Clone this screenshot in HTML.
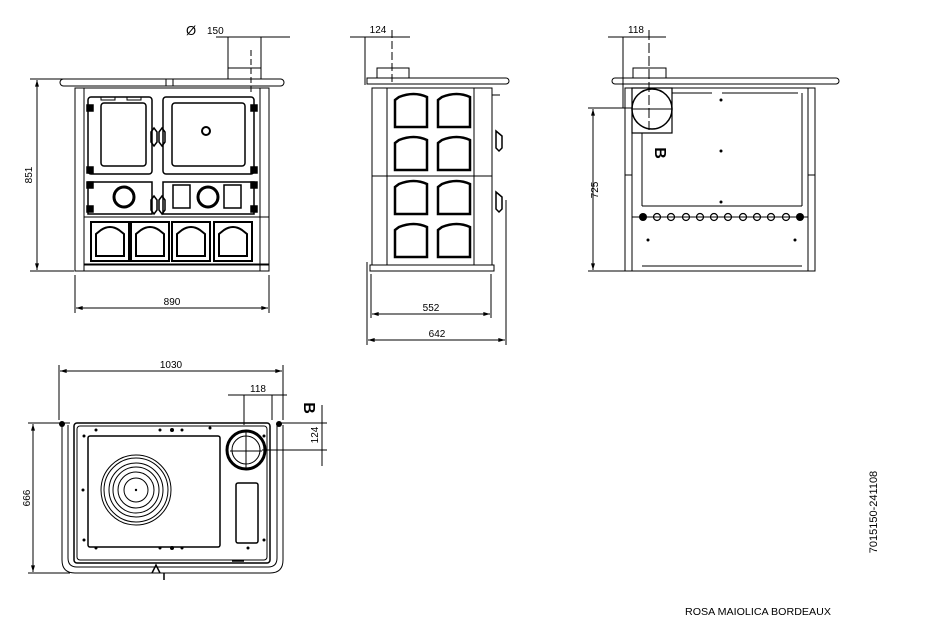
<!DOCTYPE html>
<html><head><meta charset="utf-8"><style>
html,body{margin:0;padding:0;background:#fff;width:944px;height:638px;overflow:hidden}
svg{display:block}
text{font-family:"Liberation Sans",sans-serif;fill:#000}
</style></head><body>
<svg width="944" height="638" viewBox="0 0 944 638" xmlns="http://www.w3.org/2000/svg">
<defs>
<marker id="a" viewBox="0 0 10 6" refX="10" refY="3" markerWidth="8" markerHeight="4" orient="auto-start-reverse"><path d="M0,0L10,3L0,6z" fill="#000"/></marker>
</defs>
<g fill="none" stroke="#000" stroke-width="1">

<!-- FRONT VIEW -->
<line x1="216" y1="37" x2="290" y2="37"/>
<line x1="228" y1="37" x2="228" y2="79"/><line x1="261" y1="37" x2="261" y2="79"/>
<line x1="251" y1="50" x2="251" y2="92" stroke-dasharray="6,3"/>
<rect x="228" y="68" width="33" height="11"/>
<rect x="60" y="79" width="224" height="7" rx="3.5"/>
<rect x="166" y="79" width="7" height="7"/>
<rect x="75" y="88" width="9" height="183"/><rect x="260" y="88" width="9" height="183"/>
<line x1="84" y1="88" x2="260" y2="88"/>
<rect x="84" y="265" width="185" height="6"/>
<rect x="88" y="97" width="64" height="77" rx="3" stroke-width="1.5"/>
<rect x="101" y="103" width="45" height="63" rx="3" stroke-width="1.5"/>
<rect x="163" y="97" width="91" height="77" rx="3" stroke-width="1.5"/>
<rect x="172" y="103" width="73" height="63" rx="3" stroke-width="1.5"/>
<circle cx="206" cy="131" r="4" stroke-width="2"/>
<rect x="101" y="97" width="14" height="3"/><rect x="127" y="97" width="14" height="3"/>
<path d="M151 132 l3 -4 l3 4 v10 l-3 4 l-3 -4z M159 132 l3 -4 l3 4 v10 l-3 4 l-3 -4z" stroke-width="1.5"/>
<rect x="88" y="182" width="64" height="32" stroke-width="1.5"/>
<rect x="163" y="182" width="91" height="32" stroke-width="1.5"/>
<circle cx="124" cy="197" r="10" stroke-width="3"/>
<circle cx="208" cy="197" r="10" stroke-width="3"/>
<rect x="173" y="185" width="17" height="23" stroke-width="1.5"/>
<rect x="224" y="185" width="17" height="23" stroke-width="1.5"/>
<path d="M151 200 l3 -4 l3 4 v10 l-3 4 l-3 -4z M159 200 l3 -4 l3 4 v10 l-3 4 l-3 -4z" stroke-width="1.5"/>
<g stroke-width="1.5" fill="#000">
<rect x="87" y="105" width="6" height="6"/><rect x="87" y="167" width="6" height="6"/><rect x="87" y="182" width="6" height="6"/><rect x="87" y="206" width="6" height="6"/>
<rect x="251" y="105" width="6" height="6"/><rect x="251" y="167" width="6" height="6"/><rect x="251" y="182" width="6" height="6"/><rect x="251" y="206" width="6" height="6"/>
</g>
<rect x="84" y="217" width="185" height="47"/>
<g stroke-width="2">
<path d="M91 222h38v39h-38z M131 222h38v39h-38z M172 222h38v39h-38z M214 222h38v39h-38z"/>
<path d="M96 256v-22l5-4q9-6 18 0l5 4v22z M136 256v-22l5-4q9-6 18 0l5 4v22z M177 256v-22l5-4q9-6 18 0l5 4v22z M219 256v-22l5-4q9-6 18 0l5 4v22z"/>
</g>
<line x1="30" y1="79" x2="74" y2="79"/><line x1="30" y1="271" x2="74" y2="271"/>
<line x1="37" y1="80" x2="37" y2="270" marker-start="url(#a)" marker-end="url(#a)"/>
<line x1="75" y1="275" x2="75" y2="313"/><line x1="269" y1="275" x2="269" y2="313"/>
<line x1="76" y1="308" x2="268" y2="308" marker-start="url(#a)" marker-end="url(#a)"/>

<!-- SIDE VIEW -->
<line x1="350" y1="37" x2="410" y2="37"/>
<line x1="365" y1="37" x2="365" y2="85"/>
<line x1="392" y1="30" x2="392" y2="85" stroke-dasharray="8,3"/>
<rect x="377" y="68" width="32" height="10"/>
<path d="M367 78 H506 a3 3 0 0 1 0 6 H367z"/>
<rect x="372" y="88" width="120" height="177"/>
<line x1="387" y1="88" x2="387" y2="265"/><line x1="474" y1="88" x2="474" y2="265"/>
<line x1="372" y1="176" x2="492" y2="176"/>
<rect x="370" y="265" width="124" height="6"/>
<line x1="492" y1="95" x2="500" y2="95"/>
<g stroke-width="2.5">
<path d="M395 127v-27l4-3q15-6 28 0v30z M438 127v-27l4-3q15-6 28 0v30z"/>
<path d="M395 170v-27l4-3q15-6 28 0v30z M438 170v-27l4-3q15-6 28 0v30z"/>
<path d="M395 214v-27l4-3q15-6 28 0v30z M438 214v-27l4-3q15-6 28 0v30z"/>
<path d="M395 257v-27l4-3q15-6 28 0v30z M438 257v-27l4-3q15-6 28 0v30z"/>
</g>
<path d="M496 131l6 5l0 12l-3 3l-3-3z M496 192l6 5l0 12l-3 3l-3-3z" stroke-width="1.5"/>
<line x1="371" y1="274" x2="371" y2="318"/><line x1="491" y1="274" x2="491" y2="318"/>
<line x1="372" y1="314" x2="490" y2="314" marker-start="url(#a)" marker-end="url(#a)"/>
<line x1="367" y1="262" x2="367" y2="345"/><line x1="506" y1="200" x2="506" y2="345"/>
<line x1="368" y1="340" x2="505" y2="340" marker-start="url(#a)" marker-end="url(#a)"/>

<!-- REAR VIEW -->
<line x1="608" y1="37" x2="666" y2="37"/>
<line x1="623" y1="37" x2="623" y2="108"/>
<line x1="649" y1="30" x2="649" y2="130" stroke-dasharray="10,3"/>
<rect x="633" y="68" width="33" height="10"/>
<path d="M615 78 H836 a3 3 0 0 1 0 6 H615 a3 3 0 0 1 0 -6z"/>
<rect x="625" y="88" width="190" height="183"/>
<line x1="632" y1="88" x2="632" y2="271"/><line x1="808" y1="88" x2="808" y2="271"/>
<line x1="625" y1="175" x2="632" y2="175"/><line x1="808" y1="175" x2="815" y2="175"/>
<rect x="632" y="88" width="40" height="45" stroke-width="1.2"/>
<circle cx="652" cy="109" r="20" stroke-width="1.5"/>
<line x1="632" y1="109" x2="672" y2="109"/>
<path d="M672 93 h40 M722 93 h76"/>
<path d="M642 133 V206 M802 93 V206"/>
<path d="M642 206 h160 M632 217 h176"/>
<line x1="642" y1="266" x2="802" y2="266"/>
<g fill="#000" stroke="none">
<circle cx="643" cy="217" r="4"/><circle cx="800" cy="217" r="4"/>
<circle cx="721" cy="100" r="1.5"/><circle cx="721" cy="151" r="1.5"/><circle cx="721" cy="202" r="1.5"/>
<circle cx="648" cy="240" r="1.5"/><circle cx="795" cy="240" r="1.5"/>
</g>
<g stroke-width="1.2"><circle cx="657" cy="217" r="3.5"/><circle cx="671" cy="217" r="3.5"/><circle cx="686" cy="217" r="3.5"/><circle cx="700" cy="217" r="3.5"/><circle cx="714" cy="217" r="3.5"/><circle cx="728" cy="217" r="3.5"/><circle cx="743" cy="217" r="3.5"/><circle cx="757" cy="217" r="3.5"/><circle cx="771" cy="217" r="3.5"/><circle cx="786" cy="217" r="3.5"/></g>
<line x1="588" y1="108" x2="632" y2="108"/><line x1="588" y1="271" x2="625" y2="271"/>
<line x1="593" y1="109" x2="593" y2="270" marker-start="url(#a)" marker-end="url(#a)"/>

<!-- TOP VIEW -->
<line x1="59" y1="365" x2="59" y2="420"/><line x1="283" y1="365" x2="283" y2="420"/>
<line x1="60" y1="371" x2="282" y2="371" marker-start="url(#a)" marker-end="url(#a)"/>
<line x1="228" y1="395" x2="287" y2="395"/>
<line x1="244" y1="395" x2="244" y2="425"/><line x1="272" y1="395" x2="272" y2="420"/>
<line x1="280" y1="423" x2="327" y2="423"/><line x1="262" y1="450" x2="327" y2="450"/>
<line x1="322" y1="405" x2="322" y2="466"/>
<line x1="28" y1="423" x2="70" y2="423"/><line x1="28" y1="573" x2="70" y2="573"/>
<line x1="33" y1="424" x2="33" y2="572" marker-start="url(#a)" marker-end="url(#a)"/>
<path d="M62 425 V560 q0 13 13 13 H270 q13 0 13 -13 V425"/>
<path d="M68 425 V558 q0 9 9 9 H268 q9 0 9 -9 V425"/>
<rect x="74" y="423" width="196" height="140" rx="3" stroke-width="1.5"/>
<rect x="77" y="426" width="190" height="134" rx="3"/>
<rect x="88" y="436" width="132" height="111" rx="2" stroke-width="1.5"/>
<circle cx="136" cy="490" r="35"/><circle cx="136" cy="490" r="32"/>
<circle cx="136" cy="490" r="27"/><circle cx="136" cy="490" r="23"/>
<circle cx="136" cy="490" r="18"/><circle cx="136" cy="490" r="12"/>
<circle cx="246" cy="450" r="19" stroke-width="3"/>
<circle cx="246" cy="450" r="14"/>
<line x1="230" y1="451" x2="262" y2="451"/><line x1="246" y1="430" x2="246" y2="468"/>
<rect x="236" y="483" width="22" height="60" rx="2" stroke-width="1.5"/>
<g fill="#000" stroke="none">
<circle cx="62" cy="424" r="3"/><circle cx="279" cy="424" r="3"/>
<circle cx="96" cy="430" r="1.5"/><circle cx="160" cy="430" r="1.5"/><circle cx="172" cy="430" r="2"/><circle cx="182" cy="430" r="1.5"/><circle cx="210" cy="428" r="1.5"/>
<circle cx="84" cy="436" r="1.5"/><circle cx="84" cy="540" r="1.5"/><circle cx="264" cy="436" r="1.5"/><circle cx="264" cy="540" r="1.5"/>
<circle cx="83" cy="490" r="1.5"/><circle cx="136" cy="490" r="1.2"/>
<circle cx="96" cy="548" r="1.5"/><circle cx="160" cy="548" r="1.5"/><circle cx="172" cy="548" r="2"/><circle cx="182" cy="548" r="1.5"/><circle cx="248" cy="548" r="1.5"/>
</g>
<path d="M152 573 l4 -8 l4 8 M164 573 V580 M232 561 h12" stroke-width="1.5"/>
</g>

<!-- TEXT -->
<text x="186" y="35" font-size="13">Ø</text>
<text x="207" y="34" font-size="10">150</text>
<text x="36" y="175" font-size="10" transform="rotate(-90 36 175)" text-anchor="middle" dy="-4">851</text>
<text x="172" y="305" font-size="10" text-anchor="middle">890</text>
<text x="378" y="33" font-size="10" text-anchor="middle">124</text>
<text x="431" y="311" font-size="10" text-anchor="middle">552</text>
<text x="437" y="337" font-size="10" text-anchor="middle">642</text>
<text x="636" y="33" font-size="10" text-anchor="middle">118</text>
<text x="598" y="190" font-size="10" text-anchor="middle" transform="rotate(-90 598 190)">725</text>
<text x="660" y="153" font-size="16" font-weight="bold" text-anchor="middle" transform="rotate(90 660 153)" dy="5">B</text>
<text x="171" y="368" font-size="10" text-anchor="middle">1030</text>
<text x="258" y="392" font-size="10" text-anchor="middle">118</text>
<text x="315" y="435" font-size="10" text-anchor="middle" transform="rotate(-90 315 435)" dy="3">124</text>
<text x="309" y="408" font-size="16" font-weight="bold" text-anchor="middle" transform="rotate(90 309 408)" dy="5">B</text>
<text x="30" y="498" font-size="10" text-anchor="middle" transform="rotate(-90 30 498)">666</text>
<text x="877" y="512" font-size="11" text-anchor="middle" transform="rotate(-90 877 512)">7015150-241108</text>
<text x="685" y="615" font-size="10" textLength="146" lengthAdjust="spacingAndGlyphs">ROSA MAIOLICA BORDEAUX</text>
</svg>
</body></html>
